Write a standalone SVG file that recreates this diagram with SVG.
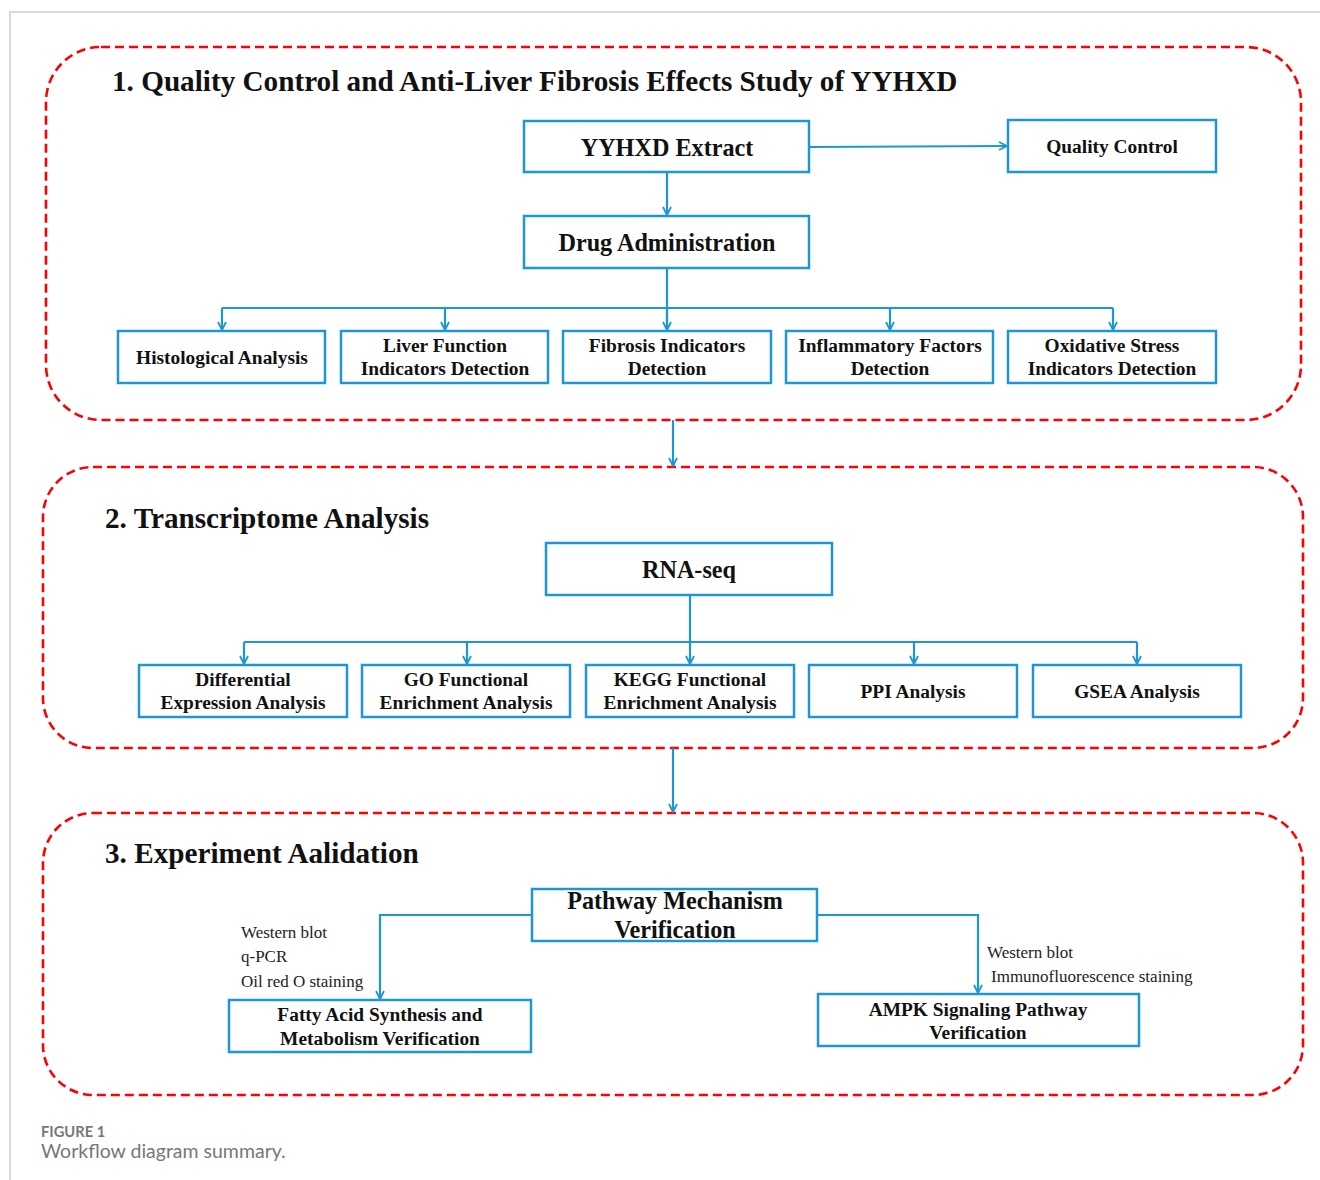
<svg xmlns="http://www.w3.org/2000/svg" width="1320" height="1180" viewBox="0 0 1320 1180">
<defs>
<marker id="arr" viewBox="0 0 10 10" refX="9" refY="5" markerWidth="10" markerHeight="10" markerUnits="userSpaceOnUse" orient="auto">
<path d="M1,1 L9,5 L1,9" fill="none" stroke="#1e96d6" stroke-width="1.8"/>
</marker>
<style>
.panel{fill:none;stroke:#ff0000;stroke-width:2.6;stroke-dasharray:9 5}
.box{fill:#fff;stroke:#1e96d6;stroke-width:2.5}
.con{fill:none;stroke:#1e96d6;stroke-width:2.2}
.t{font-family:"Liberation Serif",serif;font-weight:bold;fill:#111;text-anchor:middle}
.h{font-family:"Liberation Serif",serif;font-weight:bold;fill:#111;font-size:29.2px}
.b{font-size:19.4px}
.big{font-size:24.2px}
.lab{font-family:"Liberation Serif",serif;font-size:17px;fill:#222}
</style>
</defs>
<rect width="1320" height="1180" fill="#fff"/>
<path d="M10,1180 L10,12 L1320,12" fill="none" stroke="#cccccc" stroke-width="1.5"/>

<g id="panels">
<rect class="panel" x="46" y="47" width="1255" height="373" rx="55"/>
<rect class="panel" x="43" y="467" width="1260" height="281" rx="50"/>
<rect class="panel" x="43" y="813" width="1260" height="282" rx="50"/>
<text class="h" x="112" y="91">1. Quality Control and Anti-Liver Fibrosis Effects Study of YYHXD</text>
<text class="h" x="105" y="528">2. Transcriptome Analysis</text>
<text class="h" x="105" y="863">3. Experiment Aalidation</text>
</g>

<g id="connectors">
<path class="con" d="M809,147 L1007,146" marker-end="url(#arr)"/>
<path class="con" d="M667,172 L667,215" marker-end="url(#arr)"/>
<path class="con" d="M667,268 L667,330"/>
<path class="con" d="M222,308 L1113,308"/>
<path class="con" d="M222,308 L222,330" marker-end="url(#arr)"/>
<path class="con" d="M445,308 L445,330" marker-end="url(#arr)"/>
<path class="con" d="M667,308 L667,330" marker-end="url(#arr)"/>
<path class="con" d="M890,308 L890,330" marker-end="url(#arr)"/>
<path class="con" d="M1113,308 L1113,330" marker-end="url(#arr)"/>
<path class="con" d="M673,420 L673,466" marker-end="url(#arr)"/>
<path class="con" d="M690,595 L690,642"/>
<path class="con" d="M244,642 L1137,642"/>
<path class="con" d="M244,642 L244,664" marker-end="url(#arr)"/>
<path class="con" d="M467,642 L467,664" marker-end="url(#arr)"/>
<path class="con" d="M690,642 L690,664" marker-end="url(#arr)"/>
<path class="con" d="M914,642 L914,664" marker-end="url(#arr)"/>
<path class="con" d="M1137,642 L1137,664" marker-end="url(#arr)"/>
<path class="con" d="M673,748 L673,812" marker-end="url(#arr)"/>
<path class="con" d="M532,915 L380,915 L380,999" marker-end="url(#arr)"/>
<path class="con" d="M817,915 L978,915 L978,993" marker-end="url(#arr)"/>
</g>

<g id="n-yyhxd"><rect class="box" x="524" y="121" width="285" height="51"/><text class="t big" x="667" y="156">YYHXD Extract</text></g>
<g id="n-qc"><rect class="box" x="1008" y="120" width="208" height="52"/><text class="t b" x="1112" y="153">Quality Control</text></g>
<g id="n-drug"><rect class="box" x="524" y="216" width="285" height="52"/><text class="t big" x="667" y="251">Drug Administration</text></g>

<g id="n-hist"><rect class="box" x="118" y="331" width="207" height="52"/><text class="t b" x="222" y="364">Histological Analysis</text></g>
<g id="n-liver"><rect class="box" x="341" y="331" width="207" height="52"/><text class="t b" x="445" y="352">Liver Function</text><text class="t b" x="445" y="375">Indicators Detection</text></g>
<g id="n-fib"><rect class="box" x="563" y="331" width="208" height="52"/><text class="t b" x="667" y="352">Fibrosis Indicators</text><text class="t b" x="667" y="375">Detection</text></g>
<g id="n-infl"><rect class="box" x="786" y="331" width="207" height="52"/><text class="t b" x="890" y="352">Inflammatory Factors</text><text class="t b" x="890" y="375">Detection</text></g>
<g id="n-ox"><rect class="box" x="1008" y="331" width="208" height="52"/><text class="t b" x="1112" y="352">Oxidative Stress</text><text class="t b" x="1112" y="375">Indicators Detection</text></g>

<g id="n-rna"><rect class="box" x="546" y="543" width="286" height="52"/><text class="t big" x="689" y="578">RNA-seq</text></g>

<g id="n-diff"><rect class="box" x="139" y="665" width="208" height="52"/><text class="t b" x="243" y="686">Differential</text><text class="t b" x="243" y="709">Expression Analysis</text></g>
<g id="n-go"><rect class="box" x="362" y="665" width="208" height="52"/><text class="t b" x="466" y="686">GO Functional</text><text class="t b" x="466" y="709">Enrichment Analysis</text></g>
<g id="n-kegg"><rect class="box" x="586" y="665" width="208" height="52"/><text class="t b" x="690" y="686">KEGG Functional</text><text class="t b" x="690" y="709">Enrichment Analysis</text></g>
<g id="n-ppi"><rect class="box" x="809" y="665" width="208" height="52"/><text class="t b" x="913" y="698">PPI Analysis</text></g>
<g id="n-gsea"><rect class="box" x="1033" y="665" width="208" height="52"/><text class="t b" x="1137" y="698">GSEA Analysis</text></g>

<g id="n-path"><rect class="box" x="532" y="889" width="285" height="52"/><text class="t big" x="675" y="909">Pathway Mechanism</text><text class="t big" x="675" y="938">Verification</text></g>
<g id="n-fatty"><rect class="box" x="229" y="1000" width="302" height="52"/><text class="t b" x="380" y="1021">Fatty Acid Synthesis and</text><text class="t b" x="380" y="1045">Metabolism Verification</text></g>
<g id="n-ampk"><rect class="box" x="818" y="994" width="321" height="52"/><text class="t b" x="978" y="1016">AMPK Signaling Pathway</text><text class="t b" x="978" y="1039">Verification</text></g>

<g id="labels">
<text class="lab" x="241" y="938">Western blot</text>
<text class="lab" x="241" y="962">q-PCR</text>
<text class="lab" x="241" y="987">Oil red O staining</text>
<text class="lab" x="987" y="958">Western blot</text>
<text class="lab" x="991" y="982">Immunofluorescence staining</text>
</g>

<g id="caption">
<text x="41" y="1137" font-family="Lato, 'Open Sans', sans-serif" font-weight="bold" font-size="14.7" fill="#777">FIGURE 1</text>
<text x="41" y="1158" font-family="Lato, 'Open Sans', sans-serif" font-size="19.5" fill="#777">Workflow diagram summary.</text>
</g>
</svg>
